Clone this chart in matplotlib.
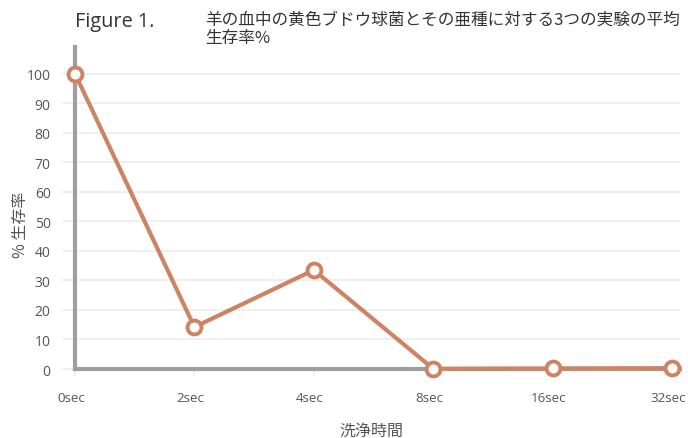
import matplotlib.pyplot as plt
import matplotlib.transforms as mtransforms

plt.rcParams["font.family"] = ["Open Sans", "Noto Sans CJK JP", "DejaVu Sans"]

categories = ["0sec", "2sec", "4sec", "8sec", "16sec", "32sec"]
survival = [100, 14.2, 33.5, 0.1, 0.2, 0.3]
y_ticks = [0, 10, 20, 30, 40, 50, 60, 70, 80, 90, 100]

line_color = "#cc8464"
axis_color = "#9e9e9e"
grid_color = "#ececec"
text_color = "#555555"

fig = plt.figure(figsize=(6.88, 4.39), dpi=100)
ax = fig.add_axes([75 / 688, 1 - 370 / 439, (680 - 75) / 688, (370 - 48) / 439])

x = list(range(len(categories)))
ax.plot(x, survival, color=line_color, linewidth=3, marker="o",
        markersize=10, markerfacecolor="white", markeredgecolor=line_color,
        markeredgewidth=2.8, zorder=5, clip_on=False)

ax.set_xlim(0, 5 + 8 / 119.4)
ax.set_ylim(0, 109)
ax.set_yticks(y_ticks)
ax.set_xticks(x)
ax.set_xticklabels(categories)

ax.grid(axis="y", color=grid_color, linewidth=1.2)
ax.set_axisbelow(True)

for side in ["top", "right"]:
    ax.spines[side].set_visible(False)
for side in ["left", "bottom"]:
    ax.spines[side].set_color(axis_color)
    ax.spines[side].set_linewidth(3)

ax.tick_params(axis="y", length=9.5, width=1.2, color=grid_color,
               labelsize=10, labelcolor=text_color, pad=8)
ax.tick_params(axis="x", length=5, width=1.2, color=grid_color,
               labelsize=9.6, labelcolor=text_color, pad=11)

# tick labels sit a few pixels left of their ticks in the reference
shift = mtransforms.ScaledTranslation(-4 / 100, 0, fig.dpi_scale_trans)
for label in ax.get_xticklabels():
    label.set_transform(label.get_transform() + shift)

ax.set_xlabel("洗浄時間", fontsize=11.5, color=text_color,
              family=["Noto Sans CJK JP", "DejaVu Sans"])
ax.xaxis.set_label_coords(0.49, -0.165)
ax.set_ylabel("% 生存率", fontsize=11.5, color=text_color,
              family=["Noto Sans CJK JP", "DejaVu Sans"])
ax.yaxis.set_label_coords(-0.076, 0.45)

fig.text(75 / 688, 1 - 22 / 439, "Figure 1.", fontsize=14.3, color="#333333",
         va="center", ha="left")
fig.text(205 / 688, 1 - 29 / 439,
         "羊の血中の黄色ブドウ球菌とその亜種に対する3つの実験の平均\n生存率%",
         fontsize=12, color="#333333", va="center", ha="left",
         linespacing=1.12, family=["Noto Sans CJK JP", "DejaVu Sans"])

fig.savefig("out.png", dpi=100)
